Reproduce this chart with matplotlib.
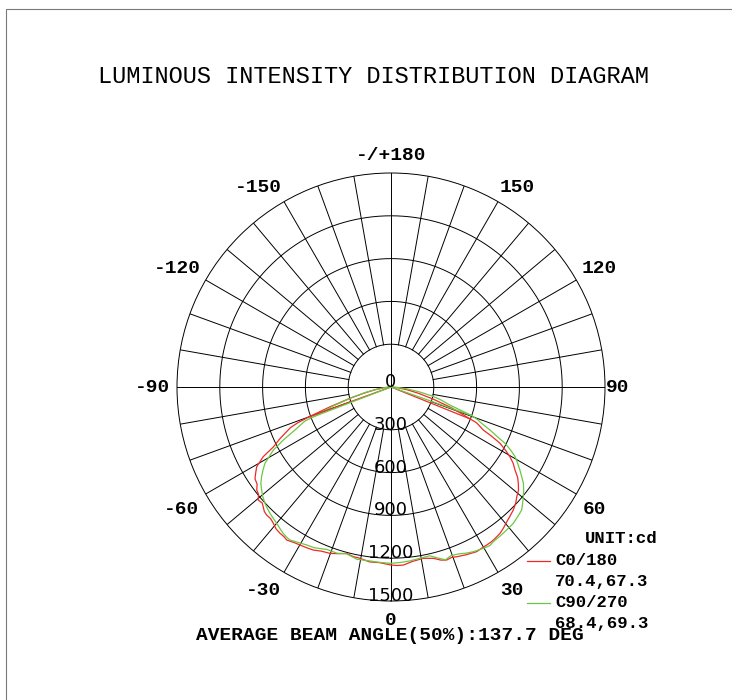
# encoding:utf-8
import numpy as np
import matplotlib
matplotlib.use('Agg')
from matplotlib import pyplot as plt
from matplotlib.patches import Rectangle
from matplotlib.lines import Line2D

# ---- data (gamma in degrees, intensity in cd) ----
ring_values = [300, 600, 900, 1200, 1500]
angle_ticks = [0, 30, 60, 90, 120, 150, 180, -150, -120, -90, -60, -30]
angle_labels = ['0', '30', '60', '90', '120', '150', '-/+180',
                '-150', '-120', '-90', '-60', '-30']

# C0/180 (red)
c0_angles = [-90, -84, -80, -77, -74.6, -72, -70, -69, -68, -67, -65, -63,
             -61.4, -59.3, -57.5, -56, -54, -52.5, -51, -49.6, -48, -46.9,
             -45.5, -44.2, -42.5, -40.8, -39, -37.2, -35.5, -34.3, -32, -29.9,
             -27.5, -25.5, -23, -20.1, -17.5, -14.9, -12.5, -10.3, -7, -3.6,
             0, 2, 4, 7, 10.7, 14, 16, 17.8, 19.5, 21.2, 24, 27.5, 29.5, 31.2,
             33, 34.5, 36.7, 38.5, 40.7, 42.5, 44.8, 47, 48.9, 51, 52.9, 54.5,
             56.2, 58, 59.6, 61, 62.7, 64, 65, 66.2, 67.3, 68, 71, 74, 77, 80,
             84, 90]
c0_values = [0, 50, 120, 200, 300, 450, 610, 700, 760, 790, 860, 925,
             1020, 1095, 1125, 1150, 1160, 1186, 1195, 1222, 1215, 1227,
             1245, 1251, 1250, 1262, 1280, 1287, 1290, 1298, 1285, 1278,
             1272, 1266, 1250, 1242, 1225, 1207, 1218, 1220, 1235, 1234,
             1248, 1252, 1251, 1232, 1222, 1238, 1262, 1274, 1268, 1276, 1288, 1301, 1296, 1295,
             1293, 1288, 1279, 1265, 1245, 1232, 1216, 1195, 1170, 1150, 1119, 1090,
             1046, 1010, 967, 920, 860, 780, 714, 680, 650, 600, 450, 307, 200, 120,
             50, 0]
c0_cut_angles = [-70, 68]
c0_cut_values = [610, 600]

# C90/270 (green)
c90_angles = [-90, -85, -81, -78, -75, -72, -69, -68.4, -65.9, -63.8, -61.8,
              -58.8, -57, -55.3, -53.5, -51.5, -49.5, -47.3, -45.5, -43.8, -42,
              -40, -38, -36.4, -34.8, -33.4, -31, -28.1, -25.7, -23.5, -21.6,
              -18, -14.9, -11.2, -7.5, -3.6, 0, 3, 6.2, 9.5, 12.9, 15.5, 17.5,
              19.5, 22, 24.3, 26.6, 29, 31.8, 33.5, 36, 39, 41.9, 44.5, 46.7,
              48.5, 50.3, 52, 54, 55.5, 57.2, 59, 60.7, 62.3, 63.7, 65, 66.5,
              68, 69.3, 70.5, 73, 75.5, 77.5, 80, 83, 86, 90]
c90_values = [0, 40, 100, 180, 280, 420, 580, 650, 737, 841, 936,
              1033, 1070, 1103, 1135, 1159, 1182, 1202, 1215, 1226, 1236,
              1247, 1262, 1274, 1282, 1285, 1270, 1255, 1249, 1236, 1224,
              1225, 1210, 1231, 1228, 1232, 1236, 1232, 1226, 1218, 1214, 1245, 1270,
              1255, 1262, 1278, 1291, 1300, 1310, 1300, 1295, 1289, 1284, 1270, 1258,
              1232, 1205, 1180, 1147, 1112, 1075, 1035, 997, 945, 891, 820, 757,
              690, 650, 600, 430, 360, 300, 210, 120, 50, 0]
c90_cut_angles = [-69, 70.5]
c90_cut_values = [580, 600]

legend_names = ['C0/180', 'C90/270']
legend_beams = ['70.4,67.3', '68.4,69.3']
beam_text = 'AVERAGE BEAM ANGLE(50%):137.7 DEG'

RED = '#f02828'
GREEN = '#6cc840'
W, H = 732, 700
PT = 72 / 100  # points per pixel

fig = plt.figure(figsize=(7.32, 7.0), dpi=100)

# grey frame, only top and left edges visible
fig.patches.append(Rectangle((6 / W, -0.1), 1.2, 1 - 9 / H + 0.1,
                             transform=fig.transFigure, fill=False,
                             edgecolor='#7a7a7a', lw=0.8))

fig.text(373.5 / W, 1 - 83 / H, 'LUMINOUS INTENSITY DISTRIBUTION DIAGRAM',
         ha='center', va='baseline', fontsize=17, family='Liberation Mono')

# polar area: centre (391, 387) px, radius 214 px
cx, cy, R = 391, 387, 214
ax = fig.add_axes([(cx - R) / W, 1 - (cy + R) / H, 2 * R / W, 2 * R / H],
                  projection='polar')
ax.set_theta_zero_location('S')
ax.set_theta_direction(1)
ax.set_ylim(0, 1500)
ax.set_xticks([])
ax.set_yticks([])
ax.grid(False)
ax.spines['polar'].set_linewidth(0.7)

th = np.linspace(0, 2 * np.pi, 721)
for r in ring_values[:-1]:
    ax.plot(th, np.full_like(th, r), color='black', lw=0.7)
for a in range(0, 360, 10):
    start = 0 if a % 90 == 0 else ring_values[0]
    ax.plot([np.radians(a)] * 2, [start, ring_values[-1]], color='black', lw=0.7)

# curves
ax.plot(np.radians(c0_angles), c0_values, color=RED, lw=0.9)
ax.plot(np.radians(c90_angles), c90_values, color=GREEN, lw=0.9)
for a, v in zip(c0_cut_angles, c0_cut_values):
    ax.plot([np.radians(a)] * 2, [0, v], color=RED, lw=0.9)
for a, v in zip(c90_cut_angles, c90_cut_values):
    ax.plot([np.radians(a)] * 2, [0, v], color=GREEN, lw=0.9)

# ring values
for v in [0] + ring_values:
    ax.text(0, v, str(v), ha='center', va='baseline', fontsize=13,
            family='DejaVu Sans')

# angle labels (small pixel nudges so they sit as in the original layout)
nudge = {0: (0, 2), 30: (3, 0), 60: (0, -5), 90: (0, 0), 120: (4, 1),
         150: (9, -4), 180: (0, -4), -150: (-15, -4), -120: (-10, 1),
         -90: (-12, 0), -60: (-6, -5), -30: (-10, 0)}
for a, lab in zip(angle_ticks, angle_labels):
    r = 1590 if abs(a) == 90 else 1650
    nx, ny = nudge[a]
    ax.annotate(lab, xy=(np.radians(a), r), xytext=(nx * PT, ny * PT),
                textcoords='offset points', ha='center', va='center',
                fontsize=14, family='Liberation Mono', weight='bold',
                annotation_clip=False)

# legend block
fig.text(585 / W, 1 - 543 / H, 'UNIT:cd', ha='left', va='baseline',
         fontsize=12.4, family='Liberation Mono', weight='bold')
for i, (name, beam, col) in enumerate(zip(legend_names, legend_beams, [RED, GREEN])):
    base = 565 + i * 42
    fig.add_artist(Line2D([526.7 / W, 550 / W], [1 - (base - 4.5) / H] * 2,
                          color=col, lw=0.9))
    fig.text(555 / W, 1 - base / H, name, ha='left', va='baseline',
             fontsize=12.4, family='Liberation Mono', weight='bold')
    fig.text(555 / W, 1 - (base + 21) / H, beam, ha='left', va='baseline',
             fontsize=12.4, family='Liberation Mono', weight='bold')

fig.text(390 / W, 1 - 640 / H, beam_text, ha='center', va='baseline',
         fontsize=14, family='Liberation Mono', weight='bold')

plt.savefig('out.png', dpi=100)
